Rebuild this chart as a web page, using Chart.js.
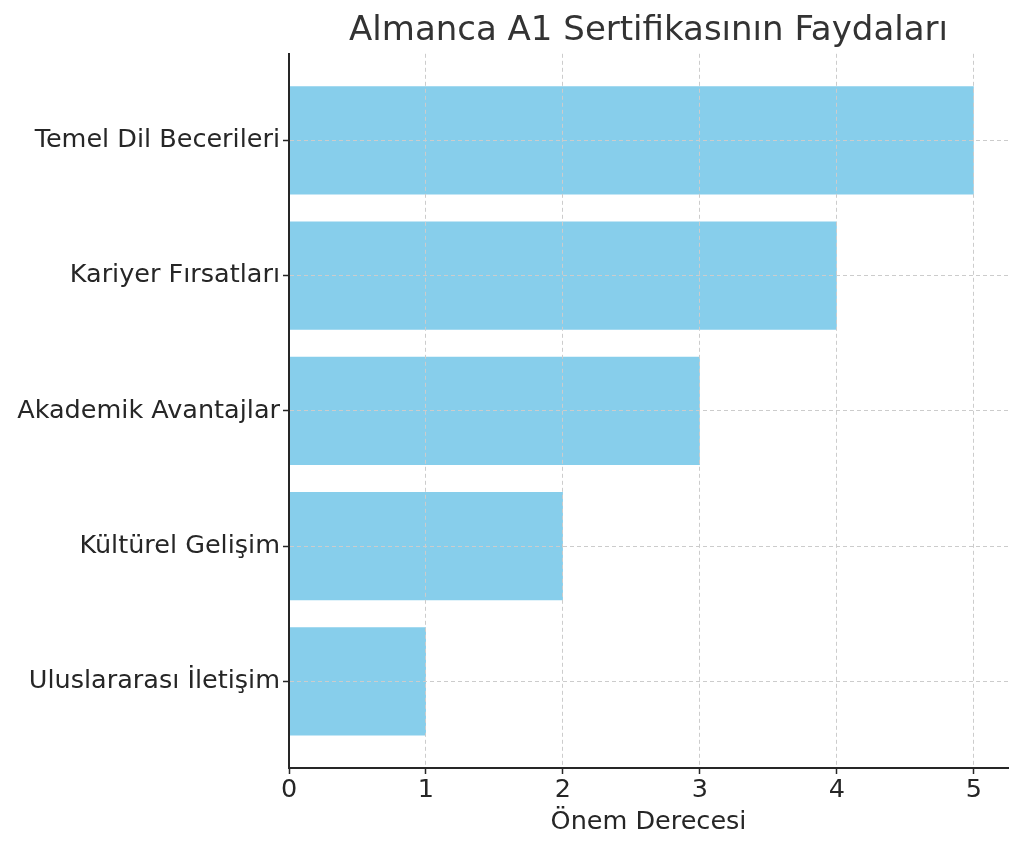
<!DOCTYPE html>
<html lang="tr">
<head>
    <meta charset="UTF-8">
    <title>Almanca A1 Sertifikasının Faydaları</title>
    <style>
        body {
            margin: 0;
            background: #ffffff;
        }

        #wrap {
            width: 1024px;
            height: 852px;
        }
    </style>
</head>
<body>
<div id="wrap">
    <canvas id="benefitChart" width="1024" height="852"></canvas>
</div>

<script src="https://cdn.jsdelivr.net/npm/chart.js"></script>
<script>
    // categories listed bottom to top, as on the y axis
    const categories = ['Uluslararası İletişim', 'Kültürel Gelişim', 'Akademik Avantajlar', 'Kariyer Fırsatları', 'Temel Dil Becerileri'];
    const importance = [1, 2, 3, 4, 5];
    const xTicks = [0, 1, 2, 3, 4, 5];

    const FONT = "'DejaVu Sans', sans-serif";
    const gridColor = '#cccccc';
    const axisColor = '#262626';

    const points = categories.map((c, i) => ({x: importance[i], y: i}));

    const ctx = document.getElementById('benefitChart').getContext('2d');
    new Chart(ctx, {
        type: 'bar',
        data: {
            datasets: [{
                label: 'Önem Derecesi',
                data: points,
                backgroundColor: '#87ceeb',
                borderWidth: 0,
                barPercentage: 0.8,
                categoryPercentage: 1
            }]
        },
        options: {
            indexAxis: 'y',
            responsive: false,
            animation: false,
            layout: {
                padding: {top: 0, right: 16, bottom: 14, left: 0}
            },
            plugins: {
                legend: {display: false},
                tooltip: {enabled: false},
                title: {
                    display: true,
                    text: 'Almanca A1 Sertifikasının Faydaları',
                    fullSize: false,
                    color: '#333333',
                    font: {family: FONT, size: 34, weight: 'normal'},
                    padding: {top: 11, bottom: 2}
                }
            },
            scales: {
                x: {
                    type: 'linear',
                    min: 0,
                    max: 5.25,
                    afterBuildTicks: scale => {
                        scale.ticks = xTicks.map(v => ({value: v}));
                    },
                    afterFit: scale => {
                        scale.height = 70;
                    },
                    ticks: {
                        color: axisColor,
                        font: {family: FONT, size: 25.5},
                        padding: 1
                    },
                    grid: {
                        z: 1,
                        color: gridColor,
                        lineWidth: 1,
                        drawTicks: true,
                        tickLength: 6,
                        tickColor: axisColor,
                        tickWidth: 1.5,
                        tickBorderDash: []
                    },
                    border: {
                        display: true,
                        z: 2,
                        color: axisColor,
                        width: 2,
                        dash: [4, 3]
                    },
                    title: {
                        display: true,
                        text: 'Önem Derecesi',
                        color: axisColor,
                        font: {family: FONT, size: 25.5},
                        padding: {top: 2, bottom: 0}
                    }
                },
                y: {
                    type: 'linear',
                    min: -0.64,
                    max: 4.64,
                    offset: false,
                    afterBuildTicks: scale => {
                        scale.ticks = categories.map((c, i) => ({value: i}));
                    },
                    afterFit: scale => {
                        scale.width = 289;
                    },
                    ticks: {
                        color: axisColor,
                        font: {family: FONT, size: 25.5},
                        padding: 3,
                        callback: value => categories[value]
                    },
                    grid: {
                        z: 1,
                        offset: false,
                        color: gridColor,
                        lineWidth: 1,
                        drawTicks: true,
                        tickLength: 6,
                        tickColor: axisColor,
                        tickWidth: 1.5,
                        tickBorderDash: []
                    },
                    border: {
                        display: true,
                        z: 2,
                        color: axisColor,
                        width: 2,
                        dash: [4, 3]
                    }
                }
            }
        }
    });
</script>
</body>
</html>
